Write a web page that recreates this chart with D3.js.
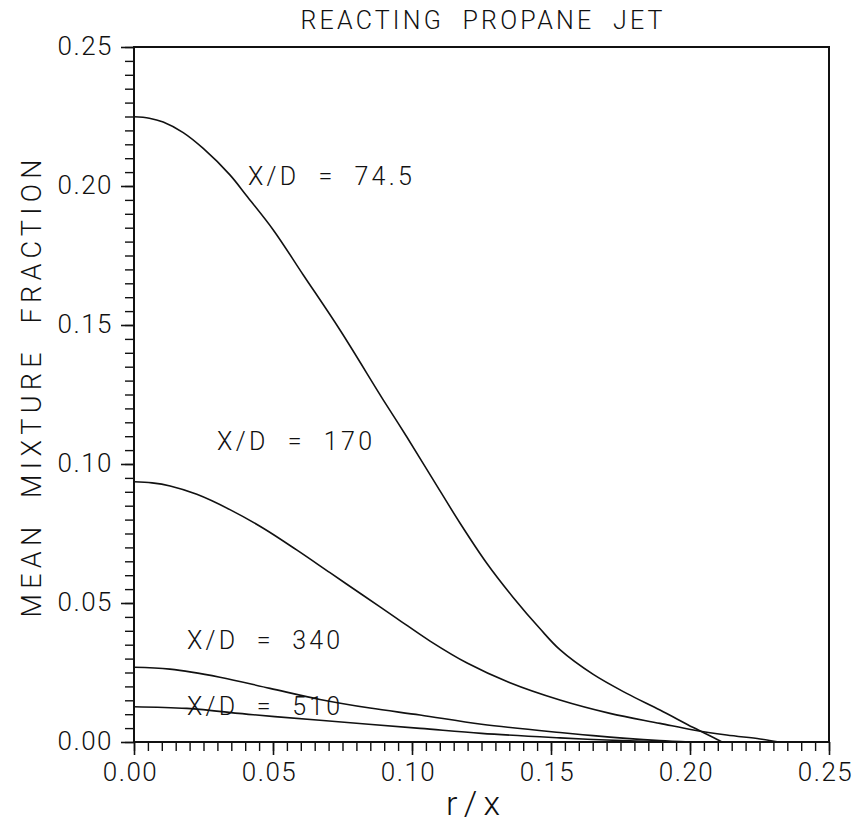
<!DOCTYPE html>
<html>
<head>
<meta charset="utf-8">
<script src="https://cdn.jsdelivr.net/npm/d3@7"></script>
<style>
  body { margin: 0; background: #fff; }
  svg { display: block; }
  text { font-family: Roboto, "Liberation Sans", Arial, sans-serif; font-weight: 300; fill: #111; white-space: pre; }
  .axis path, .axis line { stroke: #111; }
</style>
</head>
<body>
<div id="chart"></div>
<script>
// ---- data (r/x , mean mixture fraction) ----
const r745 = [0, 0.0055, 0.0105, 0.0177, 0.0249, 0.0345, 0.0405, 0.0501, 0.0609, 0.0741, 0.0897, 0.0981, 0.1077, 0.1173, 0.1269, 0.1364, 0.1460, 0.1532, 0.1652, 0.1772, 0.1892, 0.2012, 0.2096, 0.2115];
const f745 = [0.2249, 0.2244, 0.2230, 0.2192, 0.2135, 0.2040, 0.1965, 0.1842, 0.1680, 0.1482, 0.1230, 0.1098, 0.0942, 0.0787, 0.0643, 0.0520, 0.0408, 0.0332, 0.0243, 0.0175, 0.0115, 0.0052, 0.0010, 0];

const r170 = [0, 0.0065, 0.0130, 0.0226, 0.0345, 0.0465, 0.0585, 0.0705, 0.0825, 0.0945, 0.1065, 0.120, 0.135, 0.1532, 0.1712, 0.1892, 0.2012, 0.2132, 0.2252, 0.232];
const f170 = [0.0936, 0.0932, 0.0921, 0.0891, 0.0836, 0.0769, 0.0691, 0.0609, 0.0527, 0.0445, 0.0363, 0.0283, 0.0214, 0.0151, 0.0103, 0.0067, 0.0043, 0.0025, 0.0011, 0];

const r340 = [0, 0.0129, 0.0309, 0.0489, 0.0669, 0.0849, 0.1029, 0.125, 0.1532, 0.1652, 0.177, 0.189, 0.200];
const f340 = [0.0269, 0.0262, 0.0233, 0.0193, 0.0153, 0.0122, 0.0097, 0.0064, 0.0034, 0.0023, 0.0013, 0.0005, 0];

const r510 = [0, 0.019, 0.0429, 0.0669, 0.1029, 0.125, 0.1532, 0.170, 0.190];
const f510 = [0.0127, 0.0121, 0.0098, 0.0078, 0.0049, 0.0031, 0.0015, 0.0007, 0];

const curveNames = ["X/D  =  74.5", "X/D  =  170", "X/D  =  340", "X/D  =  510"];
const xTickValues = [0, 0.05, 0.10, 0.15, 0.20, 0.25];
const yTickValues = [0, 0.05, 0.10, 0.15, 0.20, 0.25];

const title = "REACTING  PROPANE  JET";
const xTitle = "r/x";
const yTitle = "MEAN  MIXTURE  FRACTION";

// ---- layout ----
const W = 856, H = 824;
const margin = {top: 47, right: 27, bottom: 82, left: 134};
const width = W - margin.left - margin.right;
const height = H - margin.top - margin.bottom;

// label anchors in data units + target widths
const labelPos = [
    {r: 0.0410, f: 0.2004, w: 164},
    {r: 0.0299, f: 0.1050, w: 155},
    {r: 0.0191, f: 0.0335, w: 153},
    {r: 0.0191, f: 0.0097, w: 153}
];

const svg = d3.select("#chart").append("svg")
    .attr("width", W)
    .attr("height", H);

const g = svg.append("g")
    .attr("transform", "translate(" + margin.left + "," + margin.top + ")");

const x = d3.scaleLinear().domain([0, 0.25]).range([0, width]);
const y = d3.scaleLinear().domain([0, 0.25]).range([height, 0]);

// minor ticks every 0.005
const minor = d3.range(0, 0.2501, 0.005);

g.append("g")
    .attr("class", "axis")
    .attr("transform", "translate(0," + height + ")")
    .call(d3.axisBottom(x).tickValues(minor).tickSize(9).tickFormat(""))
    .call(a => a.select(".domain").remove())
    .selectAll("line").attr("stroke-width", 1.4);

g.append("g")
    .attr("class", "axis")
    .attr("transform", "translate(0," + height + ")")
    .call(d3.axisBottom(x).tickValues(xTickValues).tickSize(13).tickPadding(6).tickFormat(d3.format(".2f")))
    .call(a => a.select(".domain").remove())
    .call(a => a.selectAll("line").attr("stroke-width", 1.6))
    .call(a => a.selectAll("text")
        .attr("font-size", 26)
        .attr("letter-spacing", 1.5)
        .attr("dx", -4)
        .attr("dy", "0.76em"));

g.append("g")
    .attr("class", "axis")
    .call(d3.axisLeft(y).tickValues(minor).tickSize(9).tickFormat(""))
    .call(a => a.select(".domain").remove())
    .selectAll("line").attr("stroke-width", 1.4);

g.append("g")
    .attr("class", "axis")
    .call(d3.axisLeft(y).tickValues(yTickValues).tickSize(13).tickPadding(8).tickFormat(d3.format(".2f")))
    .call(a => a.select(".domain").remove())
    .call(a => a.selectAll("line").attr("stroke-width", 1.6))
    .call(a => a.selectAll("text")
        .attr("font-size", 26)
        .attr("letter-spacing", 1.5)
        .attr("dy", "0.30em"));

// frame
g.append("rect")
    .attr("x", 0).attr("y", 0)
    .attr("width", width).attr("height", height)
    .attr("fill", "none")
    .attr("stroke", "#111")
    .attr("stroke-width", 2);

// curves
const series = [
    {name: curveNames[0], r: r745, f: f745},
    {name: curveNames[1], r: r170, f: f170},
    {name: curveNames[2], r: r340, f: f340},
    {name: curveNames[3], r: r510, f: f510}
];

const line = d3.line()
    .x(d => x(d[0]))
    .y(d => y(d[1]))
    .curve(d3.curveCatmullRom.alpha(0.5));

g.selectAll(".curve")
    .data(series)
    .enter().append("path")
    .attr("class", "curve")
    .attr("fill", "none")
    .attr("stroke", "#111")
    .attr("stroke-width", 1.6)
    .attr("d", d => line(d.r.map((v, i) => [v, d.f[i]])));

// curve labels
g.selectAll(".curve-label")
    .data(series)
    .enter().append("text")
    .attr("class", "curve-label")
    .attr("x", (d, i) => x(labelPos[i].r))
    .attr("y", (d, i) => y(labelPos[i].f))
    .attr("font-size", 25)
    .attr("textLength", (d, i) => labelPos[i].w)
    .attr("lengthAdjust", "spacing")
    .text(d => d.name);

// titles
svg.append("text")
    .attr("x", margin.left + width / 2)
    .attr("y", 29)
    .attr("text-anchor", "middle")
    .attr("font-size", 25)
    .attr("textLength", 362)
    .attr("lengthAdjust", "spacing")
    .text(title);

svg.append("text")
    .attr("x", 473)
    .attr("y", 815)
    .attr("text-anchor", "middle")
    .attr("font-size", 34)
    .attr("textLength", 54)
    .attr("lengthAdjust", "spacing")
    .text(xTitle);

svg.append("text")
    .attr("transform", "translate(41," + (margin.top + height / 2 - 6) + ") rotate(-90)")
    .attr("text-anchor", "middle")
    .attr("font-size", 27)
    .attr("textLength", 458)
    .attr("lengthAdjust", "spacing")
    .text(yTitle);
</script>
</body>
</html>
